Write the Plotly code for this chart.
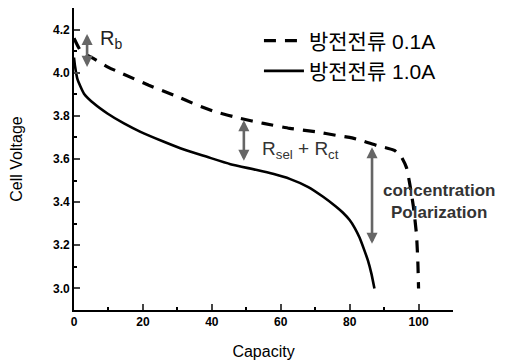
import plotly.graph_objects as go

# Data
cap_01A = [0, 2, 5.6, 10, 14, 21.7, 29, 35.7, 41, 48.3, 55, 62.6, 70.3, 76, 80, 84, 88, 91, 93, 95, 96.5, 97.5, 98.5, 99.4, 99.8, 100]
volt_01A = [4.16, 4.1, 4.066, 4.025, 3.996, 3.942, 3.896, 3.85, 3.819, 3.788, 3.765, 3.742, 3.726, 3.71, 3.70, 3.683, 3.662, 3.65, 3.64, 3.61, 3.56, 3.48, 3.38, 3.25, 3.12, 3.0]

cap_10A = [0, 0.3, 1, 2.9, 5.8, 9.7, 14.5, 19.3, 26.1, 31.9, 38.6, 45.4, 53.1, 58, 62.6, 68, 72.3, 76, 78, 80, 81.5, 82.9, 84.2, 85.3, 86.3, 87.2]
volt_10A = [4.07, 4.03, 3.97, 3.903, 3.857, 3.811, 3.765, 3.726, 3.68, 3.644, 3.61, 3.576, 3.549, 3.53, 3.508, 3.47, 3.425, 3.38, 3.352, 3.317, 3.28, 3.235, 3.18, 3.13, 3.07, 3.0]

series_names = ["방전전류 0.1A", "방전전류 1.0A"]

x_ticks = [0, 20, 40, 60, 80, 100]
y_ticks = [3.0, 3.2, 3.4, 3.6, 3.8, 4.0, 4.2]

# Annotation arrows: (x, y_top, y_bottom)
arrow_x = [3.8, 49.3, 86.5]
arrow_top = [4.18, 3.78, 3.655]
arrow_bottom = [4.02, 3.585, 3.2]

fig = go.Figure()
fig.add_trace(go.Scatter(x=cap_01A, y=volt_01A, mode="lines", name=series_names[0],
                         line=dict(color="black", width=3.2, dash="12px,9px", shape="spline", smoothing=0.5)))
fig.add_trace(go.Scatter(x=cap_10A, y=volt_10A, mode="lines", name=series_names[1],
                         line=dict(color="black", width=2.6, shape="spline", smoothing=0.5)))

for ax_, yt, yb in zip(arrow_x, arrow_top, arrow_bottom):
    fig.add_annotation(x=ax_, y=yt, ax=ax_, ay=yb, xref="x", yref="y", axref="x", ayref="y",
                       showarrow=True, arrowhead=2, arrowsize=0.85, arrowwidth=2.6, arrowcolor="#666666",
                       arrowside="end+start", startarrowhead=2, startarrowsize=0.85, standoff=0, startstandoff=0, text="")

fig.add_annotation(x=7.0, y=4.155, xref="x", yref="y", text="R<sub>b</sub>", showarrow=False,
                   xanchor="left", font=dict(family="Liberation Sans, Arial", size=20, color="#222"))
fig.add_annotation(x=54.0, y=3.64, xref="x", yref="y", text="R<sub>sel</sub> + R<sub>ct</sub>", showarrow=False,
                   xanchor="left", font=dict(family="Liberation Sans, Arial", size=19, color="#333"))
fig.add_annotation(x=106, y=3.405, xref="x", yref="y", text="concentration<br>Polarization", showarrow=False,
                   xanchor="center", font=dict(family="Liberation Sans, Arial", size=17, color="#333", weight="bold"))

# The page body has an 8px margin, so the figure is sized to fit the 515x363 window.
fig.update_layout(
    width=507, height=355,
    margin=dict(l=66, r=62, t=0, b=53),
    plot_bgcolor="white", paper_bgcolor="white",
    font=dict(family="Liberation Sans, Noto Sans CJK KR, Arial", color="black"),
    legend=dict(x=0.488, y=0.959, xanchor="left", yanchor="top", bgcolor="rgba(0,0,0,0)",
                font=dict(size=21, family="Liberation Sans, Noto Sans CJK KR"), itemwidth=40,
                tracegroupgap=0),
    showlegend=True,
)
fig.update_xaxes(range=[0, 110], tickvals=x_ticks, ticks="inside", ticklen=6, tickwidth=1.5, automargin=False,
                 showline=True, linecolor="black", linewidth=1.8, showgrid=False, zeroline=False,
                 minor=dict(dtick=10, ticks="inside", ticklen=3, tickcolor="black"),
                 tickfont=dict(size=12, weight="bold", family="Liberation Sans"),
                 title=dict(text="Capacity", font=dict(size=16), standoff=18))
fig.update_yaxes(range=[2.9, 4.3], tickvals=y_ticks, tickformat=".1f", ticks="inside", ticklen=6, tickwidth=1.5,
                 automargin=False,
                 showline=True, linecolor="black", linewidth=1.8, showgrid=False, zeroline=False,
                 minor=dict(dtick=0.1, ticks="inside", ticklen=3, tickcolor="black"),
                 tickfont=dict(size=12, weight="bold", family="Liberation Sans"),
                 title=dict(text="Cell Voltage", font=dict(size=16), standoff=27))

fig.write_html("out.html")
